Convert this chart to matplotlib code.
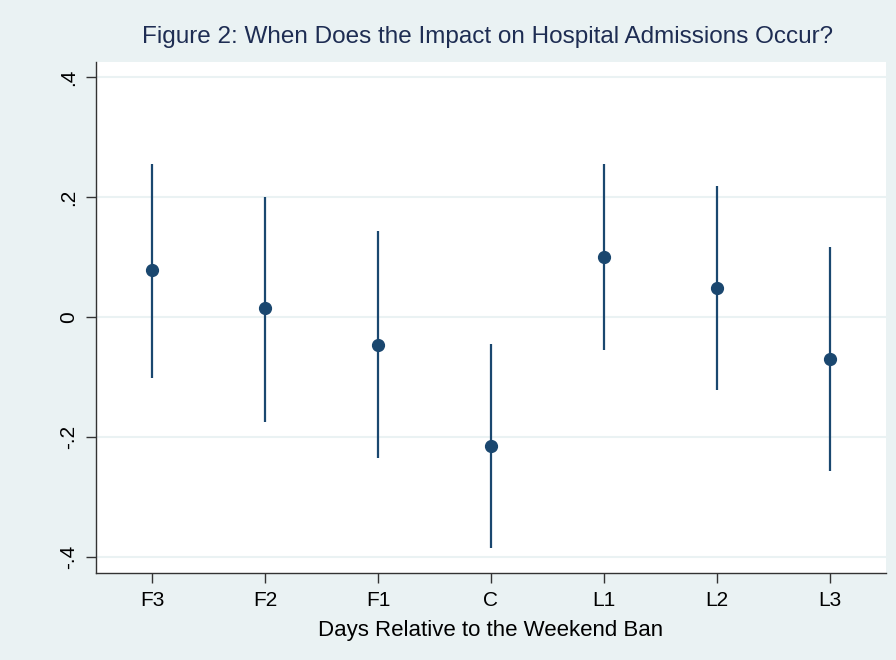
import matplotlib
matplotlib.use("Agg")
import matplotlib.pyplot as plt

# estimates and confidence bounds
labels = ["F3", "F2", "F1", "C", "L1", "L2", "L3"]
coef = [0.078, 0.015, -0.047, -0.215, 0.100, 0.048, -0.070]
lower = [-0.102, -0.175, -0.235, -0.385, -0.055, -0.122, -0.257]
upper = [0.255, 0.200, 0.143, -0.045, 0.255, 0.218, 0.117]
yticks = [-0.4, -0.2, 0, 0.2, 0.4]
ytick_labels = ["-.4", "-.2", "0", ".2", ".4"]

bg = "#EAF2F3"
navy = "#1A476F"

plt.rcParams['font.family'] = ['Liberation Sans', 'DejaVu Sans']

fig = plt.figure(figsize=(8.96, 6.6), dpi=100, facecolor=bg)
ax = fig.add_axes([96 / 896, 87 / 660, 790 / 896, 511 / 660])
ax.set_facecolor("white")

x = list(range(len(labels)))
ax.vlines(x, lower, upper, color=navy, linewidth=1.6, zorder=3)
ax.plot(x, coef, 'o', color=navy, markersize=8.5, zorder=4)

ax.set_xlim(-0.5, 6.5)
ax.set_ylim(-0.4267, 0.425)
ax.set_xticks(x)
ax.set_xticklabels(labels, fontsize=15)
ax.set_yticks(yticks)
ax.set_yticklabels(ytick_labels, fontsize=15, rotation=90, va="center")
ax.grid(axis='y', color=bg, linewidth=1.5, zorder=0)
ax.tick_params(axis='both', direction='out', length=7, width=1, color="#333333")
ax.tick_params(axis='x', pad=6)
ax.tick_params(axis='y', pad=6)

for s in ['top', 'right']:
    ax.spines[s].set_visible(False)
for s in ['left', 'bottom']:
    ax.spines[s].set_color("#333333")
    ax.spines[s].set_linewidth(1)

ax.set_xlabel("Days Relative to the Weekend Ban", fontsize=16, labelpad=7)
fig.text(0.544, 1 - 37 / 660, "Figure 2: When Does the Impact on Hospital Admissions Occur?",
         fontsize=17.5, color="#1E2D53", ha="center", va="center")

fig.savefig("out.png", dpi=100, facecolor=bg)
